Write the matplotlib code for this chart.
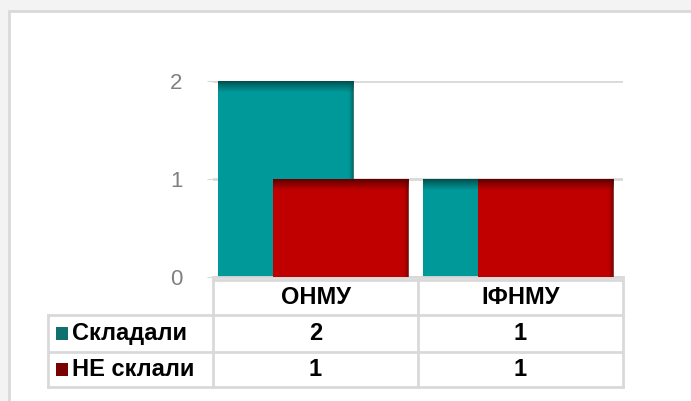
import matplotlib.pyplot as plt
import numpy as np
from matplotlib.patches import Rectangle
from matplotlib.lines import Line2D
import matplotlib.transforms as mtransforms

plt.rcParams['font.family'] = ['Liberation Sans', 'DejaVu Sans']

categories = ['ОНМУ', 'ІФНМУ']
series_names = ['Складали', 'НЕ склали']
passed = [2, 1]
failed = [1, 1]
colors = ['#009999', '#C00000']
dark = ['#004d4d', '#5c0000']
legend_colors = ['#0f7070', '#7a0000']

fig = plt.figure(figsize=(6.91, 4.01), dpi=100)

# outer frame like the screenshot
fig.patches.append(Rectangle((0, 0), 1, 1, transform=fig.transFigure,
                             facecolor='#f3f3f3', edgecolor='none', zorder=-10))
fig.patches.append(Rectangle((9 / 691, -0.1), 1, 1.1 - 11 / 401, transform=fig.transFigure,
                             facecolor='white', edgecolor='#d9d9d9', lw=2, zorder=-9))

ax = fig.add_axes([213 / 691, 1 - 277 / 401, 410 / 691, 196 / 401])
x = np.arange(len(categories))
width = 0.66

b1 = ax.bar(x - 0.147, passed, width, color=colors[0], zorder=2)
b2 = ax.bar(x + 0.123, failed, width, color=colors[1], zorder=3)

# dark gradient at the top and right edge of every bar
for bars, dc, z in [(b1, dark[0], 2.5), (b2, dark[1], 3.5)]:
    rgb = plt.matplotlib.colors.to_rgb(dc)
    for p in bars:
        x0, y0 = p.get_x(), p.get_height()
        w = p.get_width()
        rgba = np.zeros((30, 1, 4))
        rgba[..., :3] = rgb
        rgba[..., 3] = np.linspace(1, 0, 30).reshape(-1, 1) ** 1.2
        ax.imshow(rgba, extent=(x0, x0 + w, y0 - 0.12, y0), aspect='auto', zorder=z)
        rgba2 = np.zeros((1, 12, 4))
        rgba2[..., :3] = rgb
        rgba2[..., 3] = np.linspace(0, 1, 12).reshape(1, -1) ** 2 * 0.8
        ax.imshow(rgba2, extent=(x0 + w - 0.03, x0 + w, 0, y0), aspect='auto', zorder=z)

ax.set_xlim(-0.5, 1.5)
ax.set_ylim(0, 2)
ax.set_yticks([0, 1, 2])
ax.yaxis.grid(True, color='#d9d9d9', lw=2)
ax.set_axisbelow(True)
for s in ['top', 'right', 'left']:
    ax.spines[s].set_visible(False)
ax.spines['bottom'].set_color('#d9d9d9')
ax.spines['bottom'].set_linewidth(2)
ax.set_xticks([])
ax.tick_params(axis='y', length=4, color='#d9d9d9', labelsize=16, labelcolor='#808080', pad=18)

# data table under the chart
tr = mtransforms.blended_transform_factory(ax.transData, ax.transAxes)
rows_y = [-0.015, -0.194, -0.383, -0.561]
col_x = [-1.305, -0.5, 0.5, 1.5]
lc = '#d9d9d9'


def hline(x0, x1, y):
    ax.add_line(Line2D([x0, x1], [y, y], transform=tr, color=lc, lw=2, clip_on=False))


def vline(xv, y0, y1):
    ax.add_line(Line2D([xv, xv], [y0, y1], transform=tr, color=lc, lw=2, clip_on=False))


hline(col_x[1], col_x[3], rows_y[0])
for yv in rows_y[1:]:
    hline(col_x[0], col_x[3], yv)
vline(col_x[0], rows_y[1], rows_y[3])
for xv in col_x[1:]:
    vline(xv, rows_y[0], rows_y[3])

fs = 17
for i, c in enumerate(categories):
    ax.text(x[i], (rows_y[0] + rows_y[1]) / 2, c, transform=tr, ha='center', va='center',
            fontsize=fs, fontweight='bold')
for r, (name, vals) in enumerate(zip(series_names, [passed, failed])):
    yc = (rows_y[r + 1] + rows_y[r + 2]) / 2
    ax.add_patch(Rectangle((col_x[0] + 0.039, yc - 0.031), 0.058, 0.062, transform=tr,
                           facecolor=legend_colors[r], edgecolor='none', clip_on=False))
    ax.text(col_x[0] + 0.115, yc, name, transform=tr, ha='left', va='center',
            fontsize=fs, fontweight='bold')
    for i, v in enumerate(vals):
        ax.text(x[i], yc, str(v), transform=tr, ha='center', va='center',
                fontsize=fs, fontweight='bold')

fig.savefig('out.png', dpi=100)
